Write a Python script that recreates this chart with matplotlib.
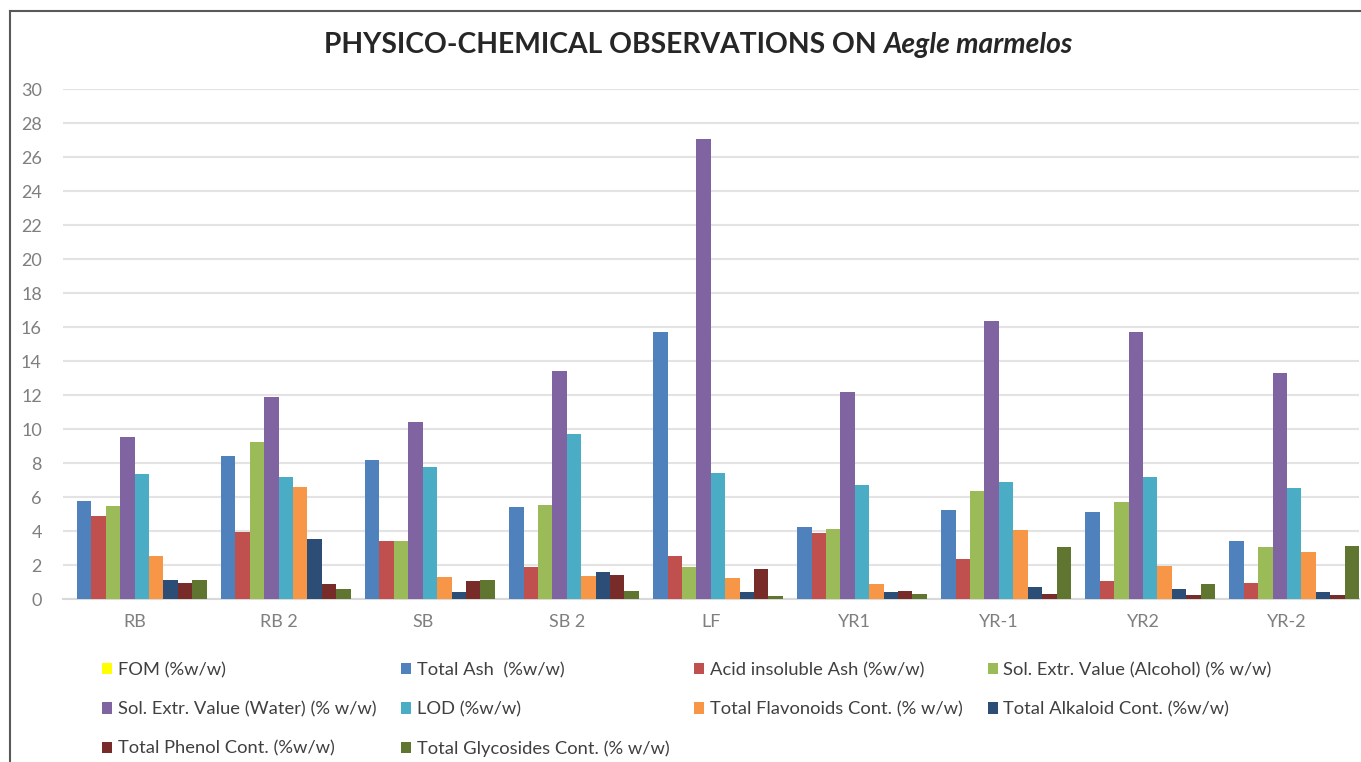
import matplotlib.pyplot as plt
import numpy as np
from matplotlib.lines import Line2D
from matplotlib.patches import Patch

plt.rcParams['font.family'] = ['Lato', 'DejaVu Sans']

samples = ['RB', 'RB 2', 'SB', 'SB 2', 'LF', 'YR1', 'YR-1', 'YR2', 'YR-2']

fom = [0, 0, 0, 0, 0, 0, 0, 0, 0]
total_ash = [5.75, 8.42, 8.18, 5.43, 15.7, 4.25, 5.24, 5.1, 3.41]
acid_insol_ash = [4.88, 3.92, 3.41, 1.86, 2.55, 3.88, 2.37, 1.08, 0.96]
sol_alcohol = [5.49, 9.24, 3.41, 5.53, 1.86, 4.1, 6.37, 5.73, 3.06]
sol_water = [9.55, 11.86, 10.43, 13.41, 27.04, 12.16, 16.35, 15.7, 13.3]
lod = [7.37, 7.18, 7.75, 9.69, 7.43, 6.71, 6.86, 7.18, 6.55]
flavonoids = [2.55, 6.61, 1.31, 1.35, 1.24, 0.88, 4.04, 1.94, 2.75]
alkaloid = [1.1, 3.55, 0.41, 1.57, 0.43, 0.41, 0.73, 0.57, 0.41]
phenol = [0.92, 0.86, 1.06, 1.43, 1.75, 0.47, 0.27, 0.22, 0.24]
glycosides = [1.1, 0.57, 1.12, 0.45, 0.18, 0.27, 3.06, 0.88, 3.1]

series_names = ['FOM (%w/w)', 'Total Ash  (%w/w)', 'Acid insoluble Ash (%w/w)',
                'Sol. Extr. Value (Alcohol) (% w/w)', 'Sol. Extr. Value (Water) (% w/w)',
                'LOD (%w/w)', 'Total Flavonoids Cont. (% w/w)', 'Total Alkaloid Cont. (%w/w)',
                'Total Phenol Cont. (%w/w)', 'Total Glycosides Cont. (% w/w)']
series_colors = ['#FFFF00', '#4F81BD', '#C0504D', '#9BBB59', '#8064A2',
                 '#4BACC6', '#F79646', '#2C4D75', '#772C2A', '#5F7530']
series_vals = [fom, total_ash, acid_insol_ash, sol_alcohol, sol_water,
               lod, flavonoids, alkaloid, phenol, glycosides]

fig = plt.figure(figsize=(13.61, 7.62), dpi=100)
ax = fig.add_axes([62.6 / 1361, 1 - 599 / 762, (1359 - 62.6) / 1361, (599 - 89) / 762])

x = np.arange(len(samples))
n = len(series_vals)
w = 1.0 / n
for i, (vals, c) in enumerate(zip(series_vals, series_colors)):
    ax.bar(x - 0.5 + w * (i + 0.5), vals, width=w, color=c, linewidth=0, zorder=3)

ax.set_xlim(-0.5, len(samples) - 0.5)
ax.set_ylim(0, 30)
ax.set_yticks(np.arange(0, 31, 2))
ax.set_xticks(x)
ax.set_xticklabels(samples)
ax.tick_params(axis='both', length=0, labelsize=13, colors='#7f7f7f')
ax.tick_params(axis='x', pad=11)
ax.tick_params(axis='y', pad=15)
ax.grid(axis='y', color='#e3e3e3', linewidth=1.5, zorder=0)
for s in ['top', 'right', 'left']:
    ax.spines[s].set_visible(False)
ax.spines['bottom'].set_color('#d9d9d9')
ax.spines['bottom'].set_linewidth(1.5)

# title: upright part then italic species name, centred together
t1 = fig.text(0, 0, 'PHYSICO-CHEMICAL OBSERVATIONS ON ', fontsize=20.3, fontweight='bold',
              color='#262626', va='center')
t2 = fig.text(0, 0, 'Aegle marmelos', fontsize=20.3, fontweight='bold', style='italic',
              color='#262626', va='center')
fig.canvas.draw()
r = fig.canvas.get_renderer()
w1 = t1.get_window_extent(r).width
w2 = t2.get_window_extent(r).width
x0 = 698 - (w1 + w2) / 2
t1.set_position((x0 / 1361, 1 - 45 / 762))
t2.set_position(((x0 + w1) / 1361, 1 - 45 / 762))

# legend, filled row by row
order = [0, 4, 8, 1, 5, 9, 2, 6, 3, 7]
handles = [Patch(facecolor=series_colors[k], edgecolor='none') for k in order]
labels = [series_names[k] for k in order]
fig.legend(handles, labels, ncol=4, loc='upper left', bbox_to_anchor=(95 / 1361, 1 - 655 / 762),
           frameon=False, fontsize=13.2, labelcolor='#404040', handlelength=0.55, handleheight=0.55,
           handletextpad=0.3, columnspacing=1.35, labelspacing=1.25, borderaxespad=0)

# chart border (only the left and top edges show)
fig.add_artist(Line2D([10 / 1361, 10 / 1361], [0, 1 - 11 / 762], color='#595959', linewidth=1.5))
fig.add_artist(Line2D([10 / 1361, 1], [1 - 11 / 762, 1 - 11 / 762], color='#595959', linewidth=1.5))

fig.savefig('out.png', dpi=100)
